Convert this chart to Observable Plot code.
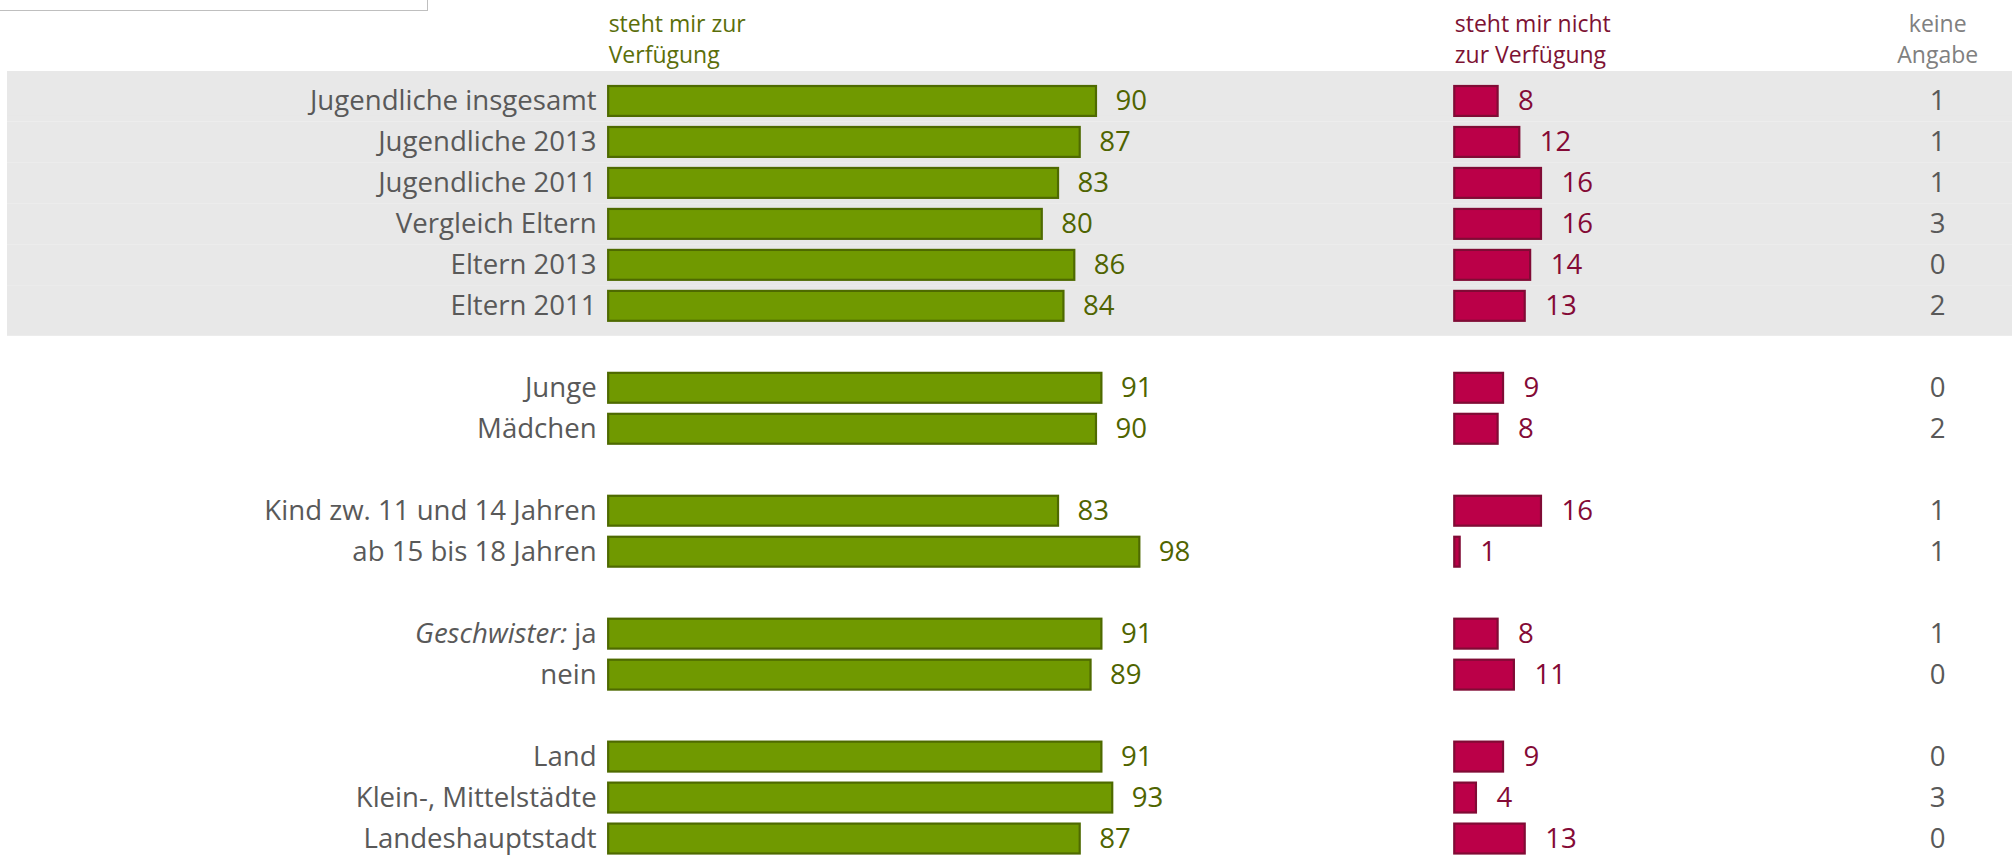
<!DOCTYPE html>
<html>
<head>
<meta charset="utf-8">
<script src="https://cdn.jsdelivr.net/npm/d3@7"></script>
<script src="https://cdn.jsdelivr.net/npm/@observablehq/plot@0.6"></script>
<style>
  html, body { margin: 0; padding: 0; background: #fff; }
  #wrap { position: relative; width: 2012px; height: 855px; overflow: hidden; }
  #box { position: absolute; left: -2px; top: -2px; width: 428px; height: 11px;
         border: 1.5px solid #bfbfbf; background: #fff; }
  svg { font-family: "Open Sans", sans-serif; }
</style>
</head>
<body>
<div id="wrap"><div id="box"></div></div>
<script>
// ---- data ----
const categories = [
  "Jugendliche insgesamt", "Jugendliche 2013", "Jugendliche 2011", "Vergleich Eltern",
  "Eltern 2013", "Eltern 2011", "Junge", "Mädchen",
  "Kind zw. 11 und 14 Jahren", "ab 15 bis 18 Jahren", "Geschwister: ja", "nein",
  "Land", "Klein-, Mittelstädte", "Landeshauptstadt"
];
const groups       = [0, 0, 0, 0, 0, 0, 1, 1, 2, 2, 3, 3, 4, 4, 4];
const available    = [90, 87, 83, 80, 86, 84, 91, 90, 83, 98, 91, 89, 91, 93, 87];
const notAvailable = [8, 12, 16, 16, 14, 13, 9, 8, 16, 1, 8, 11, 9, 4, 13];
const noAnswer     = [1, 1, 1, 3, 0, 2, 0, 2, 1, 1, 1, 0, 0, 3, 0];
const headers = ["steht mir zur\nVerfügung", "steht mir nicht\nzur Verfügung", "keine\nAngabe"];

// ---- layout helpers (in value units of the x scale) ----
const redOffset = 156.1;   // start of the second bar column
const naCenter = 245.2;    // centre of "keine Angabe" column

const rows = categories.map((c, i) => ({
  cat: c, group: groups[i], avail: available[i], notAvail: notAvailable[i], na: noAnswer[i]
}));
// y domain with spacer rows between groups
const yDomain = [];
rows.forEach((r, i) => {
  if (i > 0 && r.group !== rows[i - 1].group) yDomain.push("__gap" + r.group);
  yDomain.push(r.cat);
});
const first = rows.filter(r => r.group === 0);

const green = "#709900", greenStroke = "#4e6a00", greenText = "#4f6400";
const red = "#bb0048", redStroke = "#800b35", redText = "#840a36";
const gray = "#595959";
const FS = 27.6;
const hdr = {frameAnchor: "top", lineAnchor: "top", dy: 10, fontSize: 23, lineHeight: 1.33};

const chart = Plot.plot({
  width: 2012,
  height: 855,
  marginLeft: 0, marginRight: 0, marginTop: 0, marginBottom: 0,
  x: {domain: [-112.2, 259.0], axis: null},
  y: {domain: yDomain, range: [86, 853.5], round: false, paddingInner: 0.27, paddingOuter: 0, axis: null},
  style: {fontFamily: "'Open Sans', sans-serif", background: "transparent"},
  marks: [
    // grey band behind the first group
    Plot.cell(first, {y: "cat", fill: "#e8e8e8", insetLeft: 7, insetTop: -5.6, insetBottom: -5.6}),
    Plot.cell(first.slice(0, 1), {y: "cat", fill: "#e8e8e8", insetLeft: 7, insetTop: -15}),
    Plot.cell(first.slice(-1), {y: "cat", fill: "#e8e8e8", insetLeft: 7, insetBottom: -15}),
    // headers
    Plot.text([headers[0]], {x: () => 0, text: d => d, fill: "#5a6e0a", textAnchor: "start", ...hdr}),
    Plot.text([headers[1]], {x: () => redOffset, text: d => d, fill: "#7d1233", textAnchor: "start", ...hdr}),
    Plot.text([headers[2]], {x: () => naCenter, text: d => d, fill: "#808080", textAnchor: "middle", ...hdr}),
    // category labels
    Plot.text(rows, {x: () => 0, y: "cat", text: "cat", textAnchor: "end", dx: -12, fill: gray, fontSize: FS}),
    // available bars
    Plot.barX(rows, {x1: () => 0, x2: "avail", y: "cat", fill: green, stroke: greenStroke, strokeWidth: 2.2}),
    Plot.text(rows, {x: "avail", y: "cat", text: d => String(d.avail), textAnchor: "start", dx: 19,
      fill: greenText, fontSize: FS}),
    // not available bars
    Plot.barX(rows, {x1: () => redOffset, x2: d => redOffset + d.notAvail, y: "cat",
      fill: red, stroke: redStroke, strokeWidth: 2.2}),
    Plot.text(rows, {x: d => redOffset + d.notAvail, y: "cat", text: d => String(d.notAvail),
      textAnchor: "start", dx: 20, fill: redText, fontSize: FS}),
    // no answer
    Plot.text(rows, {x: () => naCenter, y: "cat", text: d => String(d.na), textAnchor: "middle",
      fill: gray, fontSize: FS})
  ]
});

// italic "Geschwister:" prefix
chart.querySelectorAll("text").forEach(t => {
  if (t.textContent === "Geschwister: ja") {
    t.textContent = "";
    const ns = "http://www.w3.org/2000/svg";
    const a = document.createElementNS(ns, "tspan");
    a.setAttribute("font-style", "italic");
    a.textContent = "Geschwister:";
    const b = document.createElementNS(ns, "tspan");
    b.textContent = "\u00a0ja";
    t.appendChild(a); t.appendChild(b);
  }
});

document.getElementById("wrap").insertBefore(chart, document.getElementById("box"));
</script>
</body>
</html>
